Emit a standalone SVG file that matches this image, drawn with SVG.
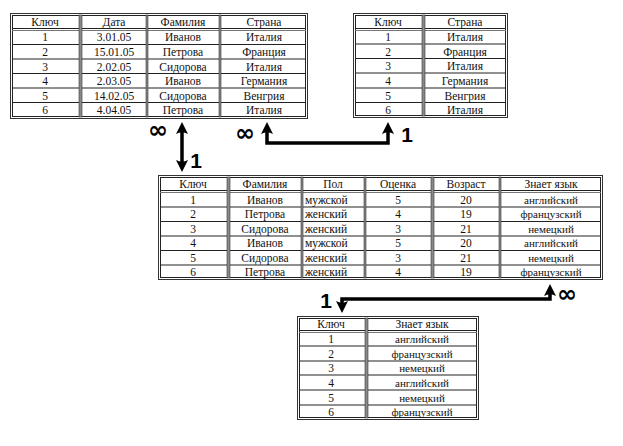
<svg xmlns="http://www.w3.org/2000/svg" width="623" height="446" viewBox="0 0 623 446">
<style>
.bg{fill:#fff}
.ob{fill:none;stroke:#333;stroke-width:1}
.ib{fill:none;stroke:#222;stroke-width:1}
.cs{fill:#8a8a8a;stroke:#333;stroke-width:0.6}
.rl{stroke:#222;stroke-width:1.2}
.hl{stroke:#777;stroke-width:1}
.t text{font-family:"Liberation Serif","DejaVu Serif","Times New Roman",serif;font-size:11.5px;fill:#111;text-anchor:middle}
.t text.sm{font-size:11px}
.t text.l{text-anchor:start}
.lbl{font-family:"Liberation Sans",Arial,sans-serif;font-weight:bold;font-size:21px;fill:#000;text-anchor:middle}
.inf{font-family:"DejaVu Sans",sans-serif;font-weight:bold;font-size:24px;fill:#000;text-anchor:middle}
.cn{fill:none;stroke:#000;stroke-width:3.5}
</style>
<defs>
<marker id="ah" markerUnits="userSpaceOnUse" markerWidth="14" markerHeight="14" refX="2" refY="6.5" orient="auto-start-reverse">
<path d="M0,0.5 Q3.5,6.5 0,12.5 L12,6.5 Z" fill="#000"/>
</marker>
</defs>

<g id="table-orders" class="t">
<rect class="bg" x="10" y="13" width="298" height="106"/>
<rect class="ob" x="10.5" y="13.5" width="297" height="105"/>
<rect class="ib" x="12.5" y="15.5" width="293" height="101"/>
<line class="rl" x1="12" y1="28.5" x2="306" y2="28.5"/>
<line class="hl" x1="12" y1="30.5" x2="306" y2="30.5"/>
<line class="rl" x1="12" y1="44.5" x2="306" y2="44.5"/>
<line class="rl" x1="12" y1="59" x2="306" y2="59"/>
<line class="rl" x1="12" y1="73.5" x2="306" y2="73.5"/>
<line class="rl" x1="12" y1="88" x2="306" y2="88"/>
<line class="rl" x1="12" y1="102.5" x2="306" y2="102.5"/>
<rect class="cs" x="79" y="15" width="3" height="102"/>
<rect class="cs" x="146" y="15" width="2" height="102"/>
<rect class="cs" x="219" y="15" width="2" height="102"/>
<text x="45" y="26">Ключ</text><text x="114" y="26">Дата</text><text x="183" y="26">Фамилия</text><text x="264" y="26">Страна</text>
<text x="45" y="41">1</text><text x="114" y="41">3.01.05</text><text x="183" y="41">Иванов</text><text x="264" y="41">Италия</text>
<text x="45" y="56">2</text><text x="114" y="56">15.01.05</text><text x="183" y="56">Петрова</text><text x="264" y="56">Франция</text>
<text x="45" y="70.5">3</text><text x="114" y="70.5">2.02.05</text><text x="183" y="70.5">Сидорова</text><text x="264" y="70.5">Италия</text>
<text x="45" y="85">4</text><text x="114" y="85">2.03.05</text><text x="183" y="85">Иванов</text><text x="264" y="85">Германия</text>
<text x="45" y="99.5">5</text><text x="114" y="99.5">14.02.05</text><text x="183" y="99.5">Сидорова</text><text x="264" y="99.5">Венгрия</text>
<text x="45" y="114">6</text><text x="114" y="114">4.04.05</text><text x="183" y="114">Петрова</text><text x="264" y="114">Италия</text>
</g>

<g id="table-countries" class="t">
<rect class="bg" x="353" y="13" width="155" height="105"/>
<rect class="ob" x="353.5" y="13.5" width="154" height="104"/>
<rect class="ib" x="355.5" y="15.5" width="150" height="100"/>
<line class="rl" x1="355" y1="28.5" x2="506" y2="28.5"/>
<line class="hl" x1="355" y1="30.5" x2="506" y2="30.5"/>
<line class="rl" x1="355" y1="44" x2="506" y2="44"/>
<line class="rl" x1="355" y1="58.5" x2="506" y2="58.5"/>
<line class="rl" x1="355" y1="73" x2="506" y2="73"/>
<line class="rl" x1="355" y1="88" x2="506" y2="88"/>
<line class="rl" x1="355" y1="102.5" x2="506" y2="102.5"/>
<rect class="cs" x="422" y="15" width="3" height="101"/>
<text x="388" y="26">Ключ</text><text x="465" y="26">Страна</text>
<text x="388" y="41">1</text><text x="465" y="41">Италия</text>
<text x="388" y="55.5">2</text><text x="465" y="55.5">Франция</text>
<text x="388" y="70">3</text><text x="465" y="70">Италия</text>
<text x="388" y="85">4</text><text x="465" y="85">Германия</text>
<text x="388" y="99.5">5</text><text x="465" y="99.5">Венгрия</text>
<text x="388" y="114">6</text><text x="465" y="114">Италия</text>
</g>

<g id="table-students" class="t">
<rect class="bg" x="158" y="175" width="445" height="105"/>
<rect class="ob" x="158.5" y="175.5" width="444" height="104"/>
<rect class="ib" x="160.5" y="177.5" width="440" height="100"/>
<line class="rl" x1="160" y1="190.5" x2="601" y2="190.5"/>
<line class="hl" x1="160" y1="192.5" x2="601" y2="192.5"/>
<line class="rl" x1="160" y1="207" x2="601" y2="207"/>
<line class="rl" x1="160" y1="221.5" x2="601" y2="221.5"/>
<line class="rl" x1="160" y1="236" x2="601" y2="236"/>
<line class="rl" x1="160" y1="250.5" x2="601" y2="250.5"/>
<line class="rl" x1="160" y1="265" x2="601" y2="265"/>
<rect class="cs" x="227" y="177" width="3" height="101"/>
<rect class="cs" x="301" y="177" width="2" height="101"/>
<rect class="cs" x="364" y="177" width="2" height="101"/>
<rect class="cs" x="431" y="177" width="3" height="101"/>
<rect class="cs" x="499" y="177" width="2" height="101"/>
<text x="193" y="188">Ключ</text><text x="265" y="188">Фамилия</text><text x="333" y="188">Пол</text><text x="398" y="188">Оценка</text><text x="466" y="188">Возраст</text><text x="551" y="188">Знает язык</text>
<text x="193" y="203.5">1</text><text x="265" y="203.5">Иванов</text><text class="l" x="305" y="203.5">мужской</text><text x="398" y="203.5">5</text><text x="466" y="203.5">20</text><text class="sm" x="551" y="203.5">английский</text>
<text x="193" y="218">2</text><text x="265" y="218">Петрова</text><text class="l" x="305" y="218">женский</text><text x="398" y="218">4</text><text x="466" y="218">19</text><text class="sm" x="551" y="218">французский</text>
<text x="193" y="232.5">3</text><text x="265" y="232.5">Сидорова</text><text class="l" x="305" y="232.5">женский</text><text x="398" y="232.5">3</text><text x="466" y="232.5">21</text><text class="sm" x="551" y="232.5">немецкий</text>
<text x="193" y="247">4</text><text x="265" y="247">Иванов</text><text class="l" x="305" y="247">мужской</text><text x="398" y="247">5</text><text x="466" y="247">20</text><text class="sm" x="551" y="247">английский</text>
<text x="193" y="261.5">5</text><text x="265" y="261.5">Сидорова</text><text class="l" x="305" y="261.5">женский</text><text x="398" y="261.5">3</text><text x="466" y="261.5">21</text><text class="sm" x="551" y="261.5">немецкий</text>
<text x="193" y="276">6</text><text x="265" y="276">Петрова</text><text class="l" x="305" y="276">женский</text><text x="398" y="276">4</text><text x="466" y="276">19</text><text class="sm" x="551" y="276">французский</text>
</g>

<g id="table-languages" class="t">
<rect class="bg" x="297" y="316" width="182" height="104"/>
<rect class="ob" x="297.5" y="316.5" width="181" height="103"/>
<rect class="ib" x="299.5" y="318.5" width="177" height="99"/>
<line class="rl" x1="299" y1="330.5" x2="477" y2="330.5"/>
<line class="hl" x1="299" y1="332.5" x2="477" y2="332.5"/>
<line class="rl" x1="299" y1="346" x2="477" y2="346"/>
<line class="rl" x1="299" y1="361" x2="477" y2="361"/>
<line class="rl" x1="299" y1="375" x2="477" y2="375"/>
<line class="rl" x1="299" y1="390" x2="477" y2="390"/>
<line class="rl" x1="299" y1="405" x2="477" y2="405"/>
<rect class="cs" x="365" y="318" width="3" height="100"/>
<text x="331" y="328">Ключ</text><text x="422" y="328">Знает язык</text>
<text x="331" y="343">1</text><text class="sm" x="422" y="343">английский</text>
<text x="331" y="357.5">2</text><text class="sm" x="422" y="357.5">французский</text>
<text x="331" y="372">3</text><text class="sm" x="422" y="372">немецкий</text>
<text x="331" y="386.5">4</text><text class="sm" x="422" y="386.5">английский</text>
<text x="331" y="401.5">5</text><text class="sm" x="422" y="401.5">немецкий</text>
<text x="331" y="416">6</text><text class="sm" x="422" y="416">французский</text>
</g>

<g id="connectors">
<path class="cn" d="M182,132 V162" marker-start="url(#ah)" marker-end="url(#ah)"/>
<path class="cn" d="M267,132 V143 H388 V132" marker-start="url(#ah)" marker-end="url(#ah)"/>
<path class="cn" d="M550,294 V299 H342 V303" marker-start="url(#ah)" marker-end="url(#ah)"/>
<text class="inf" x="158" y="138">∞</text>
<text class="lbl" x="196" y="168">1</text>
<text class="inf" x="245" y="141">∞</text>
<text class="lbl" x="407" y="142">1</text>
<text class="inf" x="567" y="302">∞</text>
<text class="lbl" x="326" y="308">1</text>
</g>
</svg>
